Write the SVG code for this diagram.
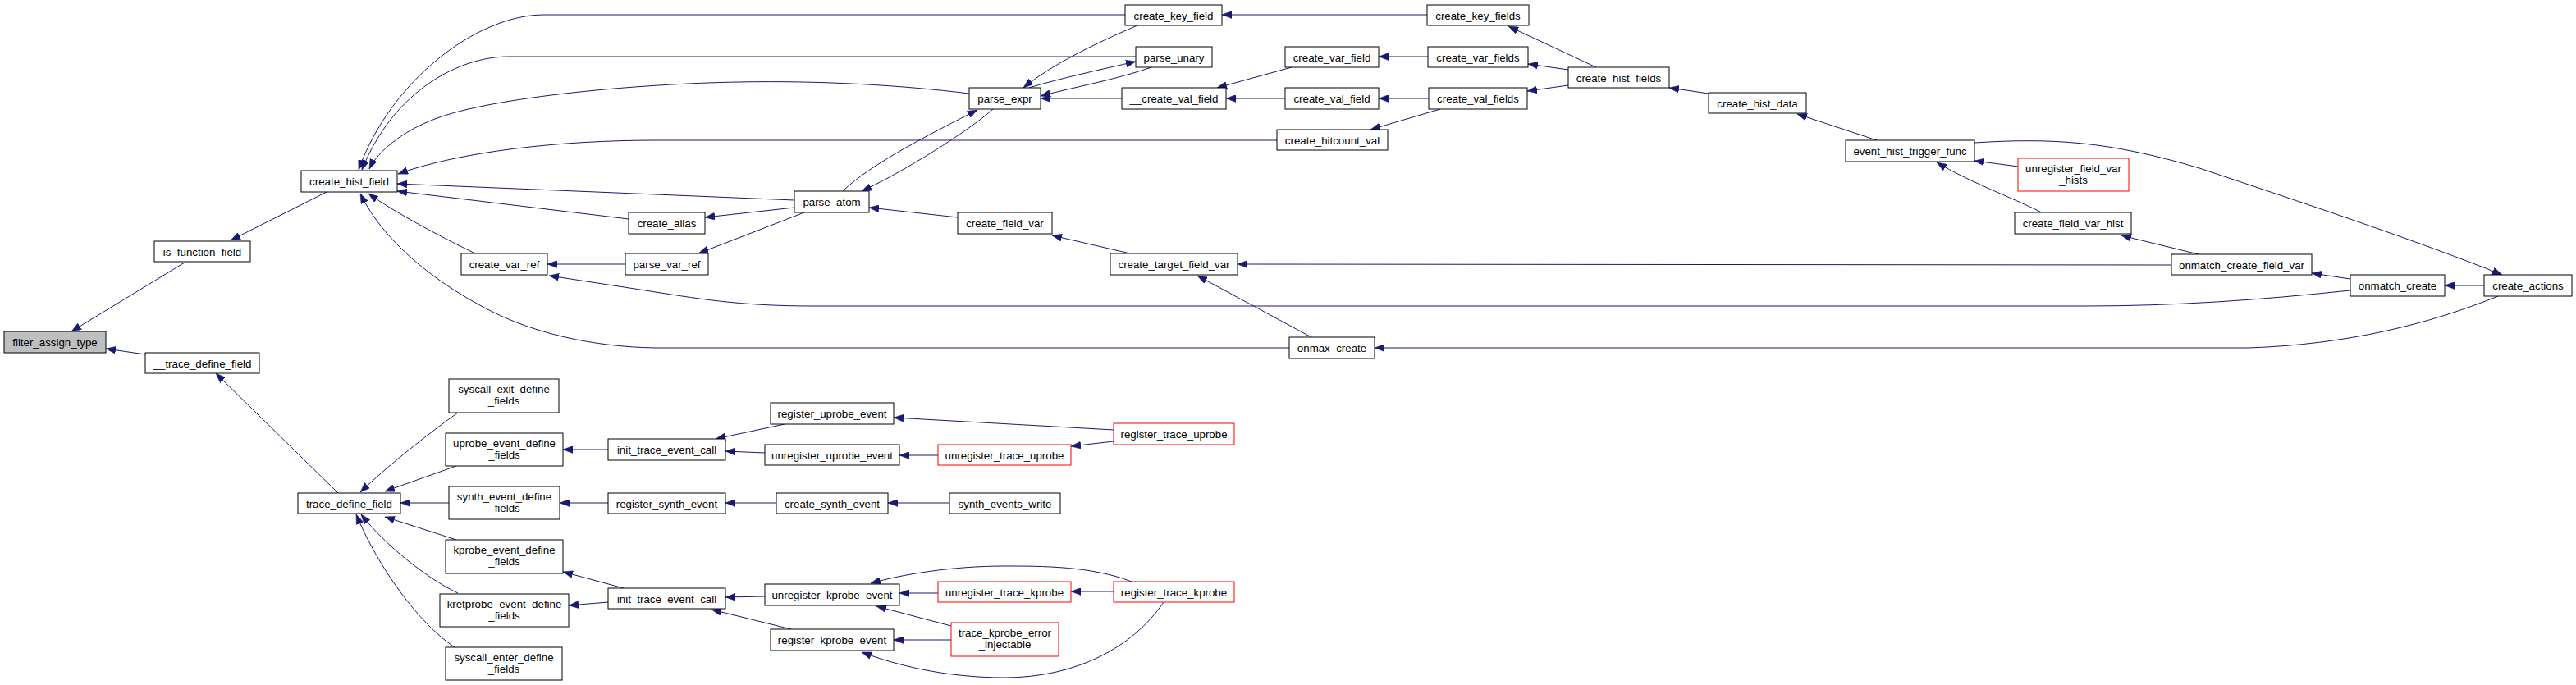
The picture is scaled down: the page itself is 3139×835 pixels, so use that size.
<svg xmlns="http://www.w3.org/2000/svg" width="3139" height="835" viewBox="0 0 3139 835">
<style>
.n rect{fill:#fff;stroke:#000;stroke-width:1}
.n.r rect{stroke:#ff0000}
.n.g rect{fill:#bfbfbf}
.n text{font-family:"Liberation Sans",Arial,sans-serif;font-size:13.3px;fill:#000;text-anchor:middle}
#edges path{fill:none;stroke:#191970;stroke-width:1;marker-end:url(#ah)}
</style>
<defs>
<marker id="ah" markerUnits="userSpaceOnUse" markerWidth="12" markerHeight="9" viewBox="0 0 12 9" refX="12" refY="4.5" orient="auto">
<path d="M0,0 L12,4.5 L0,9 z" fill="#191970" stroke="#191970" stroke-width="0.5"/>
</marker>
</defs>
<rect width="3139" height="835" fill="#fff"/>
<g id="edges">
<path d="M225,320 L87,404"/>
<path d="M177,432 L129,425"/>
<path d="M398,234 L281,293"/>
<path d="M412,601 L263,455"/>
<path d="M1371,18 L663,18 C580,18 475,100 437,207"/>
<path d="M1384,69 L620,69 C560,69 480,110 441,207"/>
<path d="M1181,114 C1100,104 1000,98 900,100 C780,102 600,118 530,145 C490,160 460,185 450,206"/>
<path d="M1556,171 L800,171 C680,171 560,185 485,212"/>
<path d="M968,244 L484,224"/>
<path d="M766,267 L484,233"/>
<path d="M579,309 C530,285 480,258 449,236"/>
<path d="M1571,424 L800,424 C720,423 650,405 600,380 C540,350 470,300 439,236"/>
<path d="M3044,361 C2960,395 2860,420 2740,424 L1675,424"/>
<path d="M2406,174 C2500,168 2570,172 2680,205 C2800,245 2950,295 3049,335"/>
<path d="M3027,348 L2979,348"/>
<path d="M2864,340 L2817,333"/>
<path d="M2679,310 L2585,287"/>
<path d="M2646,323 L1508,322"/>
<path d="M2488,259 C2450,240 2400,222 2360,198"/>
<path d="M2459,203 L2406,196"/>
<path d="M2287,171 L2190,139"/>
<path d="M2082,114 L2034,107"/>
<path d="M1945,82 L1838,32"/>
<path d="M1911,85 L1862,78"/>
<path d="M1911,104 L1861,111"/>
<path d="M1739,18 L1489,18"/>
<path d="M1740,69 L1680,69"/>
<path d="M1741,120 L1680,120"/>
<path d="M1755,133 L1670,158"/>
<path d="M1574,82 L1483,107"/>
<path d="M1566,120 L1494,120"/>
<path d="M1367,120 L1268,120"/>
<path d="M1386,31 C1330,55 1280,80 1247,107"/>
<path d="M1254,107 C1290,96 1340,85 1384,75"/>
<path d="M1403,82 C1360,97 1310,106 1268,117"/>
<path d="M1027,233 C1060,200 1140,160 1191,134"/>
<path d="M1210,133 C1180,160 1100,210 1050,233"/>
<path d="M968,253 L859,265"/>
<path d="M980,259 L851,309"/>
<path d="M1167,265 L1059,253"/>
<path d="M1377,309 L1282,287"/>
<path d="M1598,411 L1459,336"/>
<path d="M762,322 L667,322"/>
<path d="M2864,354 C2750,366 2650,373 2540,373 L990,373 C900,373 850,364 780,353 L669,336"/>
<path d="M558,503 C520,530 470,570 439,600"/>
<path d="M556,568 L469,599"/>
<path d="M547,613 L488,613"/>
<path d="M556,658 L469,630"/>
<path d="M558,723 C520,705 470,665 440,627"/>
<path d="M554,789 C510,760 460,690 434,627"/>
<path d="M741,548 L686,548"/>
<path d="M741,613 L682,613"/>
<path d="M760,717 L686,697"/>
<path d="M741,734 L693,738"/>
<path d="M956,517 L872,535"/>
<path d="M932,552 L884,550"/>
<path d="M1357,524 L1089,509"/>
<path d="M1143,555 L1096,555"/>
<path d="M1357,538 L1305,544"/>
<path d="M946,613 L884,613"/>
<path d="M1157,613 L1082,613"/>
<path d="M932,727 L884,728"/>
<path d="M964,767 L867,743"/>
<path d="M1143,723 L1096,723"/>
<path d="M1357,721 L1305,721"/>
<path d="M1379,709 C1330,690 1270,690 1224,690 C1160,690 1100,700 1061,711"/>
<path d="M1159,763 L1068,739"/>
<path d="M1159,780 L1089,780"/>
<path d="M1418,734 C1380,790 1310,826 1224,826 C1150,826 1090,810 1050,795"/>
</g>
<g id="filter_assign_type" class="n g"><rect x="5" y="404" width="124" height="26"/><text x="67" y="422">filter_assign_type</text></g>
<g id="is_function_field" class="n"><rect x="188" y="294" width="117" height="25"/><text x="246.5" y="311.5">is_function_field</text></g>
<g id="__trace_define_field" class="n"><rect x="177" y="430" width="139" height="25"/><text x="246.5" y="447.5">__trace_define_field</text></g>
<g id="create_hist_field" class="n"><rect x="367" y="208" width="117" height="26"/><text x="425.5" y="226">create_hist_field</text></g>
<g id="trace_define_field" class="n"><rect x="363" y="601" width="125" height="25"/><text x="425.5" y="618.5">trace_define_field</text></g>
<g id="create_var_ref" class="n"><rect x="562" y="309" width="105" height="26"/><text x="614.5" y="327">create_var_ref</text></g>
<g id="syscall_exit_define_fields" class="n"><rect x="547" y="462" width="134" height="41"/><text x="614" y="479">syscall_exit_define</text><text x="614" y="493">_fields</text></g>
<g id="uprobe_event_define_fields" class="n"><rect x="543" y="528" width="143" height="40"/><text x="614.5" y="545">uprobe_event_define</text><text x="614.5" y="559">_fields</text></g>
<g id="synth_event_define_fields" class="n"><rect x="547" y="593" width="135" height="40"/><text x="614.5" y="610">synth_event_define</text><text x="614.5" y="624">_fields</text></g>
<g id="kprobe_event_define_fields" class="n"><rect x="543" y="658" width="143" height="41"/><text x="614.5" y="675">kprobe_event_define</text><text x="614.5" y="689">_fields</text></g>
<g id="kretprobe_event_define_fields" class="n"><rect x="536" y="724" width="157" height="40"/><text x="614.5" y="741">kretprobe_event_define</text><text x="614.5" y="755">_fields</text></g>
<g id="syscall_enter_define_fields" class="n"><rect x="543" y="789" width="142" height="40"/><text x="614" y="806">syscall_enter_define</text><text x="614" y="820">_fields</text></g>
<g id="create_alias" class="n"><rect x="766" y="259" width="93" height="26"/><text x="812.5" y="277">create_alias</text></g>
<g id="parse_var_ref" class="n"><rect x="762" y="309" width="101" height="26"/><text x="812.5" y="327">parse_var_ref</text></g>
<g id="init_trace_event_call_1" class="n"><rect x="741" y="535" width="143" height="26"/><text x="812.5" y="553">init_trace_event_call</text></g>
<g id="register_synth_event" class="n"><rect x="741" y="601" width="143" height="25"/><text x="812.5" y="618.5">register_synth_event</text></g>
<g id="init_trace_event_call_2" class="n"><rect x="741" y="717" width="143" height="25"/><text x="812.5" y="734.5">init_trace_event_call</text></g>
<g id="parse_atom" class="n"><rect x="968" y="233" width="91" height="26"/><text x="1013.5" y="251">parse_atom</text></g>
<g id="register_uprobe_event" class="n"><rect x="939" y="491" width="150" height="26"/><text x="1014" y="509">register_uprobe_event</text></g>
<g id="unregister_uprobe_event" class="n"><rect x="932" y="542" width="164" height="25"/><text x="1014" y="559.5">unregister_uprobe_event</text></g>
<g id="create_synth_event" class="n"><rect x="946" y="601" width="136" height="25"/><text x="1014" y="618.5">create_synth_event</text></g>
<g id="unregister_kprobe_event" class="n"><rect x="932" y="712" width="164" height="26"/><text x="1014" y="730">unregister_kprobe_event</text></g>
<g id="register_kprobe_event" class="n"><rect x="939" y="767" width="150" height="26"/><text x="1014" y="785">register_kprobe_event</text></g>
<g id="parse_expr" class="n"><rect x="1181" y="107" width="87" height="26"/><text x="1224.5" y="125">parse_expr</text></g>
<g id="create_field_var" class="n"><rect x="1167" y="259" width="115" height="26"/><text x="1224.5" y="277">create_field_var</text></g>
<g id="unregister_trace_uprobe" class="n r"><rect x="1143" y="542" width="162" height="25"/><text x="1224" y="559.5">unregister_trace_uprobe</text></g>
<g id="synth_events_write" class="n"><rect x="1157" y="601" width="135" height="25"/><text x="1224.5" y="618.5">synth_events_write</text></g>
<g id="unregister_trace_kprobe" class="n r"><rect x="1143" y="709" width="162" height="25"/><text x="1224" y="726.5">unregister_trace_kprobe</text></g>
<g id="trace_kprobe_error_injectable" class="n r"><rect x="1159" y="759" width="131" height="41"/><text x="1224.5" y="776">trace_kprobe_error</text><text x="1224.5" y="790">_injectable</text></g>
<g id="create_key_field" class="n"><rect x="1371" y="6" width="118" height="25"/><text x="1430" y="23.5">create_key_field</text></g>
<g id="parse_unary" class="n"><rect x="1384" y="57" width="93" height="25"/><text x="1430.5" y="74.5">parse_unary</text></g>
<g id="__create_val_field" class="n"><rect x="1367" y="107" width="127" height="26"/><text x="1430.5" y="125">__create_val_field</text></g>
<g id="create_target_field_var" class="n"><rect x="1353" y="309" width="155" height="26"/><text x="1430.5" y="327">create_target_field_var</text></g>
<g id="register_trace_uprobe" class="n r"><rect x="1357" y="516" width="147" height="26"/><text x="1430.5" y="534">register_trace_uprobe</text></g>
<g id="register_trace_kprobe" class="n r"><rect x="1357" y="709" width="147" height="25"/><text x="1430.5" y="726.5">register_trace_kprobe</text></g>
<g id="create_var_field" class="n"><rect x="1566" y="57" width="114" height="25"/><text x="1623" y="74.5">create_var_field</text></g>
<g id="create_val_field" class="n"><rect x="1566" y="107" width="114" height="26"/><text x="1623" y="125">create_val_field</text></g>
<g id="create_hitcount_val" class="n"><rect x="1556" y="158" width="135" height="25"/><text x="1623.5" y="175.5">create_hitcount_val</text></g>
<g id="onmax_create" class="n"><rect x="1571" y="411" width="104" height="26"/><text x="1623" y="429">onmax_create</text></g>
<g id="create_key_fields" class="n"><rect x="1739" y="6" width="124" height="25"/><text x="1801" y="23.5">create_key_fields</text></g>
<g id="create_var_fields" class="n"><rect x="1740" y="57" width="122" height="25"/><text x="1801" y="74.5">create_var_fields</text></g>
<g id="create_val_fields" class="n"><rect x="1741" y="107" width="120" height="26"/><text x="1801" y="125">create_val_fields</text></g>
<g id="create_hist_fields" class="n"><rect x="1911" y="82" width="123" height="25"/><text x="1972.5" y="99.5">create_hist_fields</text></g>
<g id="create_hist_data" class="n"><rect x="2082" y="113" width="119" height="25"/><text x="2141.5" y="130.5">create_hist_data</text></g>
<g id="event_hist_trigger_func" class="n"><rect x="2249" y="171" width="157" height="26"/><text x="2327.5" y="189">event_hist_trigger_func</text></g>
<g id="unregister_field_var_hists" class="n r"><rect x="2459" y="193" width="135" height="40"/><text x="2526.5" y="210">unregister_field_var</text><text x="2526.5" y="224">_hists</text></g>
<g id="create_field_var_hist" class="n"><rect x="2455" y="259" width="142" height="26"/><text x="2526" y="277">create_field_var_hist</text></g>
<g id="onmatch_create_field_var" class="n"><rect x="2646" y="310" width="171" height="25"/><text x="2731.5" y="327.5">onmatch_create_field_var</text></g>
<g id="onmatch_create" class="n"><rect x="2864" y="335" width="115" height="26"/><text x="2921.5" y="353">onmatch_create</text></g>
<g id="create_actions" class="n"><rect x="3027" y="335" width="107" height="26"/><text x="3080.5" y="353">create_actions</text></g>
</svg>
